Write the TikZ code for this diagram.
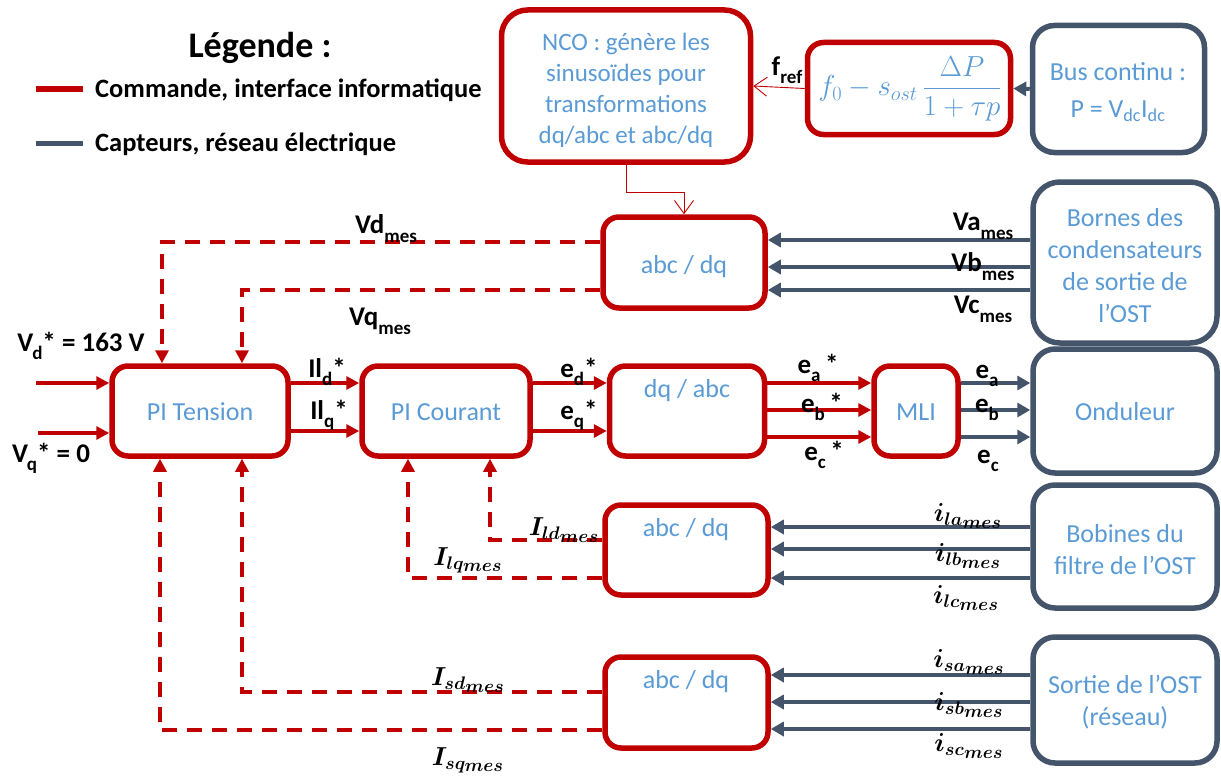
\RequirePackage{fix-cm}
\documentclass[tikz,border=0pt]{standalone}
\usepackage{fontspec}
\usepackage{amsmath}
\setmainfont{Carlito}
\usetikzlibrary{arrows.meta}
\definecolor{cred}{HTML}{C00000}
\definecolor{cgray}{HTML}{44546A}
\definecolor{cblue}{HTML}{5B9BD5}
\newcommand\lsub[1]{\raisebox{-8pt}{\fontsize{19}{19}\selectfont #1}}
\newcommand\msub[1]{\raisebox{-9pt}{\fontsize{19}{19}\selectfont #1}}
\begin{document}
\begin{tikzpicture}[x=1pt,y=-1pt,
 rbox/.style={draw=cred, line width=5.5pt, rounded corners=16pt, fill=white, inner sep=0pt},
 gbox/.style={draw=cgray, line width=5.5pt, rounded corners=22pt, fill=white, inner sep=0pt},
 btxt/.style={text=cblue, font=\fontsize{26}{32}\selectfont, align=center, inner sep=0pt},
 rarr/.style={draw=cred, line width=3.5pt, -{Triangle[length=13pt,width=13pt]}},
 garr/.style={draw=cgray, line width=4pt, -{Triangle[length=13pt,width=14pt]}},
 darr/.style={draw=cred, line width=3.5pt, dash pattern=on 15pt off 10pt, -{Triangle[length=13pt,width=13pt]}},
 tarr/.style={draw=cred, line width=0.9pt, -{Straight Barb[length=13pt,width=19pt,line width=0.9pt]}},
 lab/.style={font=\fontsize{27}{27}\selectfont\bfseries, inner sep=0pt},
 mlab/.style={font=\fontsize{26}{26}\selectfont\boldmath, inner sep=0pt},
]
\useasboundingbox (0,0) rectangle (1221,776);

% Legend
\node[font=\fontsize{36}{36}\selectfont\bfseries, inner sep=0pt] (leg) at (260,48) {Légende :};
\coordinate (l1a) at (36,89); \coordinate (l1b) at (83,89);
\coordinate (l2a) at (36,143); \coordinate (l2b) at (83,143);
\draw[cred, line width=5pt] (l1a) -- (l1b);
\draw[cgray, line width=5pt] (l2a) -- (l2b);
\node[font=\fontsize{26.5}{26.5}\selectfont\bfseries, anchor=west, inner sep=0pt] (leg1) at (95,90) {Commande, interface informatique};
\node[font=\fontsize{26.5}{26.5}\selectfont\bfseries, anchor=west, inner sep=0pt] (leg2) at (95,144) {Capteurs, réseau électrique};

% Boxes
\node[rbox, rounded corners=26pt, minimum width=249pt, minimum height=152pt] (nco) at (626,86) {};
\node[btxt, font=\fontsize{25}{31}\selectfont] (ncot) at (626,90) {NCO : génère les\\sinusoïdes pour\\transformations\\dq/abc et abc/dq};
\node[rbox, minimum width=203pt, minimum height=92pt] (form) at (909,88.5) {};
\node[btxt, font=\fontsize{29}{29}\selectfont] (formt) at (910,89) {$f_0 - s_{ost}\,\dfrac{\Delta P}{1+\tau p}$};
\node[gbox, minimum width=172pt, minimum height=127pt] (bus) at (1118.5,89) {};
\node[btxt, font=\fontsize{26}{37}\selectfont] (bust) at (1118,92) {Bus continu :\\P = V\textsubscript{dc}I\textsubscript{dc}};

\node[rbox, minimum width=162pt, minimum height=91pt] (abc1) at (684,262.5) {};
\node[btxt] (abc1t) at (684,267) {abc / dq};
\node[gbox, rounded corners=27pt, minimum width=184pt, minimum height=161pt] (bor) at (1125,262.5) {};
\node[btxt] (bort) at (1125,266) {Bornes des\\condensateurs\\de sortie de\\l’OST};

\node[rbox, minimum width=176pt, minimum height=90pt] (pit) at (200,411) {};
\node[btxt] (pitt) at (200,412) {PI Tension};
\node[rbox, minimum width=168pt, minimum height=90pt] (pic) at (446,411) {};
\node[btxt] (pict) at (446,412) {PI Courant};
\node[rbox, minimum width=155pt, minimum height=90pt] (dqa) at (687,411) {};
\node[btxt] (dqat) at (687,391) {dq / abc};
\node[rbox, minimum width=84pt, minimum height=90pt] (mli) at (916,411) {};
\node[btxt] (mlit) at (916,412) {MLI};
\node[gbox, minimum width=184pt, minimum height=124pt] (ond) at (1125,411) {};
\node[btxt] (ondt) at (1125,412) {Onduleur};

\node[rbox, minimum width=163pt, minimum height=90pt] (abc2) at (686.5,550) {};
\node[btxt] (abc2t) at (686,530) {abc / dq};
\node[gbox, minimum width=184pt, minimum height=123pt] (bob) at (1125,546.5) {};
\node[btxt] (bobt) at (1125,550) {Bobines du\\filtre de l’OST};

\node[rbox, minimum width=163pt, minimum height=91pt] (abc3) at (686.5,702.5) {};
\node[btxt] (abc3t) at (686,682) {abc / dq};
\node[gbox, minimum width=184pt, minimum height=126pt] (sor) at (1125,700) {};
\node[btxt] (sort) at (1125,702) {Sortie de l’OST\\(réseau)};

% Top connectors
\draw[garr] (bus.west) -- (form.east);
\draw[tarr] (form.west) -- (nco.east);
\node[lab] (fref) at (787,70) {f\lsub{ref}};
\coordinate (nb) at (626,192);
\draw[tarr] (nco.south) -- (nb) -| (abc1.north);

% Bornes -> abc1
\draw[garr] (bor.west |- 0,240) -- (abc1.east |- 0,240);
\draw[garr] (bor.west |- 0,267) -- (abc1.east |- 0,267);
\draw[garr] (bor.west |- 0,290) -- (abc1.east |- 0,290);
\node[lab] (va) at (983,226) {Va\msub{mes}};
\node[lab] (vb) at (983,267) {Vb\msub{mes}};
\node[lab] (vc) at (983,309) {Vc\msub{mes}};

% abc1 -> PI Tension (dashed)
\draw[darr] (abc1.west |- 0,242) -| (pit.north -| 162,0);
\draw[darr] (abc1.west |- 0,290) -| (pit.north -| 242,0);
\node[lab] (vd) at (386,229) {Vd\msub{mes}};
\node[lab] (vq) at (380,321) {Vq\msub{mes}};

% Inputs
\coordinate (in1) at (36,383);
\coordinate (in2) at (38,433);
\draw[rarr] (in1) -- (pit.west |- in1);
\draw[rarr] (in2) -- (pit.west |- in2);
\node[lab] (vds) at (81,346) {V\kern-1pt\lsub{d}* = 163 V};
\node[lab] (vqs) at (51,458) {V\kern-1pt\lsub{q}* = 0};

% Forward chain
\draw[rarr] (pit.east |- 0,383) -- (pic.west |- 0,383);
\draw[rarr] (pit.east |- 0,431) -- (pic.west |- 0,431);
\node[lab] (ild) at (327,372) {Il\lsub{d}*};
\node[lab] (ilq) at (329,415) {Il\lsub{q}*};
\draw[rarr] (pic.east |- 0,383) -- (dqa.west |- 0,383);
\draw[rarr] (pic.east |- 0,431) -- (dqa.west |- 0,431);
\node[lab] (ed) at (579,372) {e\lsub{d}*};
\node[lab] (eq) at (579,415) {e\lsub{q}*};
\draw[rarr] (dqa.east |- 0,383) -- (mli.west |- 0,383);
\draw[rarr] (dqa.east |- 0,410) -- (mli.west |- 0,410);
\draw[rarr] (dqa.east |- 0,437) -- (mli.west |- 0,437);
\node[lab] (eas) at (818,368) {e\lsub{a}\,*};
\node[lab] (ebs) at (822,407) {e\lsub{b}\,*};
\node[lab] (ecs) at (824,455) {e\lsub{c}\,*};
\draw[garr] (mli.east |- 0,383) -- (ond.west |- 0,383);
\draw[garr] (mli.east |- 0,410) -- (ond.west |- 0,410);
\draw[garr] (mli.east |- 0,437) -- (ond.west |- 0,437);
\node[lab] (ea) at (987,376) {e\lsub{a}};
\node[lab] (eb) at (987,410) {e\lsub{b}};
\node[lab] (ec) at (988,461) {e\lsub{c}};

% Bobines -> abc2
\draw[garr] (bob.west |- 0,527) -- (abc2.east |- 0,527);
\draw[garr] (bob.west |- 0,549) -- (abc2.east |- 0,549);
\draw[garr] (bob.west |- 0,578) -- (abc2.east |- 0,578);
\node[mlab] (ila) at (968,516) {$i_{la_{\scriptstyle mes}}$};
\node[mlab] (ilb) at (968,556) {$i_{lb_{\scriptstyle mes}}$};
\node[mlab] (ilc) at (966,598) {$i_{lc_{\scriptstyle mes}}$};
% abc2 -> PI Courant
\draw[darr] (abc2.west |- 0,540) -| (pic.south -| 490,0);
\draw[darr] (abc2.west |- 0,578) -| (pic.south -| 408,0);
\node[mlab] (ildm) at (564,530) {$I_{ld_{\scriptstyle mes}}$};
\node[mlab] (ilqm) at (468,560) {$I_{lq_{\scriptstyle mes}}$};

% Sortie -> abc3
\draw[garr] (sor.west |- 0,675) -- (abc3.east |- 0,675);
\draw[garr] (sor.west |- 0,702) -- (abc3.east |- 0,702);
\draw[garr] (sor.west |- 0,729) -- (abc3.east |- 0,729);
\node[mlab] (isa) at (969,662) {$i_{sa_{\scriptstyle mes}}$};
\node[mlab] (isb) at (969,705) {$i_{sb_{\scriptstyle mes}}$};
\node[mlab] (isc) at (969,746) {$i_{sc_{\scriptstyle mes}}$};
% abc3 -> PI Tension
\draw[darr] (abc3.west |- 0,692) -| (pit.south -| 242,0);
\draw[darr] (abc3.west |- 0,730) -| (pit.south -| 160,0);
\node[mlab] (isdm) at (468,680) {$I_{sd_{\scriptstyle mes}}$};
\node[mlab] (isqm) at (468,760) {$I_{sq_{\scriptstyle mes}}$};
\end{tikzpicture}
\end{document}
